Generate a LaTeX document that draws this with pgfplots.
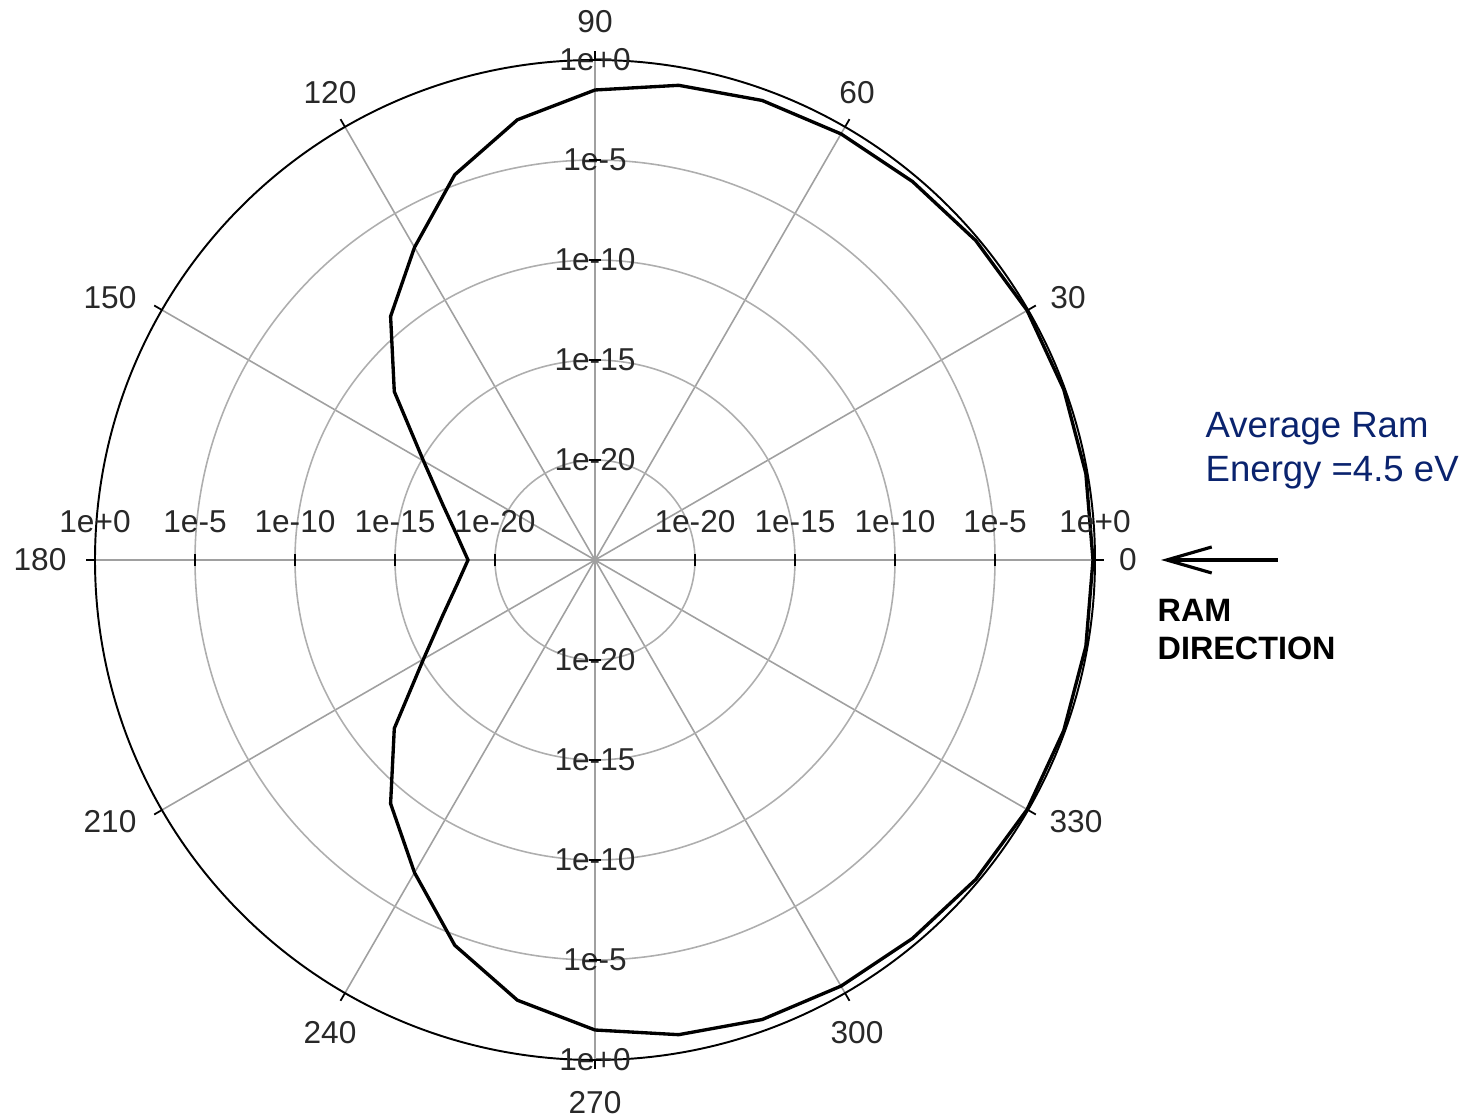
\documentclass[border=0pt]{standalone}
\usepackage{pgfplots}
\pgfplotsset{compat=1.18}
\usepackage{pgfplotstable}
\usepgfplotslibrary{polar}
\usetikzlibrary{calc,arrows.meta}
\usepackage{fontspec}
\setmainfont{Liberation Sans}
\definecolor{gridgray}{RGB}{160,160,160}
\definecolor{labgray}{RGB}{40,40,40}
\definecolor{navy}{RGB}{10,35,110}

% angle (deg), log10 of value (radius in decades)
\pgfplotstableread{
ang e
0 -0.10
10 -0.08
20 -0.06
30 -0.05
40 -0.15
50 -0.30
60 -0.40
70 -0.55
80 -0.90
90 -1.50
100 -2.65
110 -4.50
120 -6.95
130 -9.10
140 -11.90
150 -15.10
160 -16.90
170 -18.00
180 -18.65
190 -18.00
200 -16.90
210 -15.10
220 -11.90
230 -9.10
240 -6.95
250 -4.50
260 -2.65
270 -1.50
280 -0.90
290 -0.55
300 -0.40
310 -0.30
320 -0.15
330 -0.05
340 -0.06
350 -0.08
360 -0.10
}\datatable

\tikzset{lab/.style={font=\fontsize{9}{10}\selectfont, text=labgray, inner sep=0pt}}
\newcommand{\rlab}[2]{%
  \node[lab] at ($(axis cs:0,#1)+(0,3.8mm)$) {#2};
  \node[lab] at ($(axis cs:180,#1)+(0,3.8mm)$) {#2};
  \node[lab] at (axis cs:90,#1) {#2};
  \node[lab] at (axis cs:270,#1) {#2};
  \draw[black, line width=0.5pt] ($(axis cs:0,#1)+(0,-0.6mm)$) -- ($(axis cs:0,#1)+(0,0.6mm)$);
  \draw[black, line width=0.5pt] ($(axis cs:180,#1)+(0,-0.6mm)$) -- ($(axis cs:180,#1)+(0,0.6mm)$);
  \draw[black, line width=0.5pt] ($(axis cs:90,#1)+(-0.6mm,0)$) -- ($(axis cs:90,#1)+(0.6mm,0)$);
  \draw[black, line width=0.5pt] ($(axis cs:270,#1)+(-0.6mm,0)$) -- ($(axis cs:270,#1)+(0.6mm,0)$);
}
\newcommand{\atick}[1]{\draw[black, line width=0.5pt] (axis cs:#1,25) -- (axis cs:#1,25.45);}

\begin{document}
\begin{tikzpicture}
\begin{polaraxis}[
  name=ax,
  scale only axis, width=10cm, height=10cm,
  xmin=0, xmax=360, ymin=0, ymax=25,
  xtick={0,30,60,90,120,150,180,210,240,270,300,330},
  ytick={5,10,15,20},
  xticklabels={}, yticklabels={},
  xticklabel style={opacity=0}, yticklabel style={opacity=0},
  major tick length=0pt,
  grid=major,
  x grid style={gridgray, line width=0.45pt},
  y grid style={gridgray!85, line width=0.45pt},
  x axis line style={black, line width=0.55pt},
  y axis line style={draw=none},
  clip=false,
]
\addplot[black, line width=0.95pt, mark=none] table[x=ang, y expr=\thisrow{e}+25] {\datatable};
\coordinate (C) at (axis cs:0,0);
\rlab{5}{1e-20}
\rlab{10}{1e-15}
\rlab{15}{1e-10}
\rlab{20}{1e-5}
\rlab{25}{1e+0}
\atick{0}\atick{30}\atick{60}\atick{90}\atick{120}\atick{150}
\atick{180}\atick{210}\atick{240}\atick{270}\atick{300}\atick{330}
\end{polaraxis}

% angle labels
\node[lab] at ($(C)+(53.3mm,0)$) {0};
\node[lab] at ($(C)+(47.3mm,26.2mm)$) {30};
\node[lab] at ($(C)+(26.2mm,46.7mm)$) {60};
\node[lab] at ($(C)+(0,53.8mm)$) {90};
\node[lab] at ($(C)+(-26.5mm,46.7mm)$) {120};
\node[lab] at ($(C)+(-48.5mm,26.2mm)$) {150};
\node[lab] at ($(C)+(-55.5mm,0)$) {180};
\node[lab] at ($(C)+(-48.5mm,-26.2mm)$) {210};
\node[lab] at ($(C)+(-26.5mm,-47.3mm)$) {240};
\node[lab] at ($(C)+(0,-54.3mm)$) {270};
\node[lab] at ($(C)+(26.2mm,-47.3mm)$) {300};
\node[lab] at ($(C)+(48.1mm,-26.2mm)$) {330};

% annotations
\node[anchor=base west, inner sep=0pt, text=navy, font=\fontsize{10.4}{12}\selectfont] at ($(C)+(61mm,12.2mm)$) {Average Ram};
\node[anchor=base west, inner sep=0pt, text=navy, font=\fontsize{10.4}{12}\selectfont] at ($(C)+(61mm,7.8mm)$) {Energy =4.5 eV};
\draw[black, line width=0.9pt, {Straight Barb[length=4.5mm, width=2.6mm]}-] ($(C)+(56.6mm,0)$) -- ($(C)+(68.3mm,0)$);
\node[anchor=base west, inner sep=0pt, font=\bfseries\fontsize{9.2}{11}\selectfont] at ($(C)+(56.2mm,-6.2mm)$) {RAM};
\node[anchor=base west, inner sep=0pt, font=\bfseries\fontsize{9.2}{11}\selectfont] at ($(C)+(56.2mm,-10.0mm)$) {DIRECTION};

\path ($(C)+(-59.5mm,-55.8mm)$) rectangle ($(C)+(88.4mm,56mm)$);
\end{tikzpicture}
\end{document}
